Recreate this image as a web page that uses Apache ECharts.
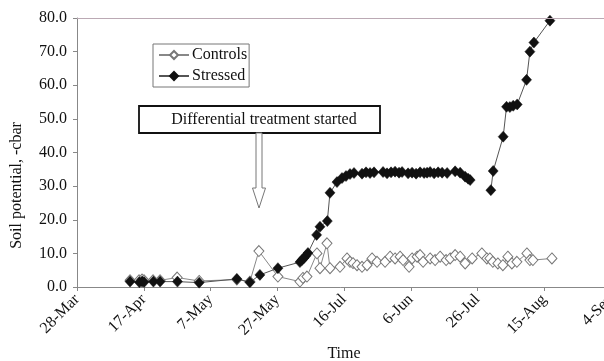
<!DOCTYPE html>
<html>
<head>
<meta charset="utf-8">
<script src="https://cdn.jsdelivr.net/npm/echarts@6/dist/echarts.min.js"></script>
<style>
  html,body{margin:0;padding:0;background:#fff;}
  #chart{width:604px;height:361px;}
</style>
</head>
<body>
<div id="chart"></div>
<script>
// x positions are days counted from 28-Mar, tick every 20 days
var xLabels=['28-Mar','17-Apr','7-May','27-May','16-Jul','6-Jun','26-Jul','15-Aug','4-Sep'];

var controlsDay=[15.9,18.6,19.5,20.1,22.8,24.9,30.0,36.6,47.9,51.8,54.5,60.2,66.8,67.7,68.9,71.9,72.8,74.9,75.8,78.8,
  80.9,81.8,82.7,83.9,85.4,86.9,88.4,89.9,92.3,93.8,95.3,96.8,97.7,99.5,100.4,101.9,102.8,103.7,105.8,107.3,
  108.8,110.6,111.8,113.3,114.8,116.3,118.4,121.3,122.8,123.7,124.6,126.1,127.6,129.1,130.3,131.8,134.8,135.7,136.6,142.3];
var controlsVal=[2.0,2.0,2.2,2.0,2.0,2.0,2.8,1.8,2.2,1.6,10.7,3.1,1.6,2.7,3.1,10.0,5.6,13.0,5.6,6.0,
  8.5,7.5,7.1,6.5,6.0,6.5,8.5,7.5,7.5,9.0,8.5,9.0,8.0,6.0,8.5,9.0,9.5,7.5,8.5,8.0,
  9.0,8.0,8.5,9.5,9.0,7.0,8.5,10.0,8.5,8.5,7.5,7.0,6.5,9.0,7.0,7.5,10.0,8.0,8.0,8.5];

var stressedDay=[15.9,18.7,19.5,20.1,22.9,24.9,30.1,36.6,47.9,51.8,54.8,60.2,66.8,67.4,68.0,68.6,69.2,71.8,72.8,75.0,
  75.8,77.9,79.4,80.6,81.8,83.0,85.4,86.6,87.8,89.0,91.7,92.9,94.1,95.3,96.5,97.4,99.2,100.4,101.6,102.8,
  104.0,104.9,105.8,107.0,108.2,109.4,110.9,113.3,114.8,116.3,117.2,117.8,120.0,124.0,124.7,127.7,128.7,129.7,130.7,131.9,
  134.7,135.7,136.9,141.7];
var stressedVal=[1.6,1.4,1.6,1.5,1.6,1.6,1.6,1.3,2.4,1.4,3.6,5.6,7.4,8.0,8.6,9.3,10.1,15.5,17.9,19.6,
  28.0,31.2,32.4,33.0,33.6,33.9,33.7,34.1,33.9,34.1,34.2,33.8,34.1,34.3,34.0,34.2,33.8,34.0,33.7,34.1,
  33.9,34.0,34.2,33.8,34.1,34.0,33.9,34.4,34.0,32.8,32.2,31.8,null,28.8,34.5,44.7,53.6,53.5,53.9,54.3,
  61.6,70.0,72.7,79.2];

var font='"Liberation Serif", "DejaVu Serif", serif';
var chart=echarts.init(document.getElementById('chart'));

var chartoptions={
  backgroundColor:'#ffffff',
  animation:false,
  grid:{left:77,top:18,width:534,bottom:74,containLabel:false,outerBoundsMode:'none'},
  legend:{
    orient:'vertical',
    left:153,top:44,
    padding:[3,2,3,5],
    itemWidth:30,itemHeight:10,itemGap:5,
    borderColor:'#777',borderWidth:1,
    backgroundColor:'#fff',
    textStyle:{fontFamily:font,fontSize:16,color:'#111',padding:[0,0,0,-2]},
    data:['Controls','Stressed']
  },
  xAxis:{
    type:'value',min:0,max:160,interval:20,
    name:'Time',nameLocation:'middle',nameGap:58,
    nameTextStyle:{fontFamily:font,fontSize:16,color:'#111'},
    axisLine:{lineStyle:{color:'#888'}},
    axisTick:{length:4,lineStyle:{color:'#888'}},
    splitLine:{show:false},
    axisLabel:{rotate:45,margin:10,fontFamily:font,fontSize:16,color:'#111',
      formatter:function(v){return xLabels[Math.round(v/20)];}}
  },
  yAxis:{
    type:'value',min:0,max:80,interval:10,
    name:'Soil potential, -cbar',nameLocation:'middle',nameGap:52,
    nameTextStyle:{fontFamily:font,fontSize:16,color:'#111',padding:[0,66,0,0]},
    axisLine:{show:true,lineStyle:{color:'#888'}},
    axisTick:{show:true,length:4,lineStyle:{color:'#888'}},
    splitLine:{show:false},
    axisLabel:{margin:10,fontFamily:font,fontSize:16,color:'#111',
      formatter:function(v){return v.toFixed(1);}}
  },
  series:[
    {
      name:'Controls',type:'line',
      data:controlsDay.map(function(x,i){return [x,controlsVal[i]];}),
      symbol:'diamond',symbolSize:[10,11],
      itemStyle:{color:'#fff',borderColor:'#777',borderWidth:1},
      lineStyle:{color:'#888',width:1},
      z:2
    },
    {
      name:'Stressed',type:'line',
      data:stressedDay.map(function(x,i){return [x,stressedVal[i]===null?'-':stressedVal[i]];}),
      symbol:'diamond',symbolSize:[10,11],
      itemStyle:{color:'#111',borderColor:'#111',borderWidth:0.5},
      lineStyle:{color:'#555',width:1},
      connectNulls:false,
      z:3,
      markLine:{
        silent:true,symbol:'none',
        label:{show:false},
        lineStyle:{color:'#bba9b4',width:1,type:'solid'},
        data:[{yAxis:80}]
      }
    }
  ],
  graphic:[
    {
      type:'rect',x:139,y:106,
      shape:{width:241,height:27},
      style:{fill:'#fff',stroke:'#111',lineWidth:1.8},
      z:10
    },
    {
      type:'text',x:264,y:119.5,
      style:{text:'Differential treatment started',font:'16px '+font,fill:'#111',
        textAlign:'center',textVerticalAlign:'middle'},
      z:11
    },
    {
      type:'polygon',
      shape:{points:[[256,133],[262,133],[262,188],[265.5,188],[259,208],[252.5,188],[256,188]]},
      style:{fill:'#fff',stroke:'#777',lineWidth:1},
      z:10
    }
  ]
};
chart.setOption(chartoptions);
</script>
</body>
</html>
